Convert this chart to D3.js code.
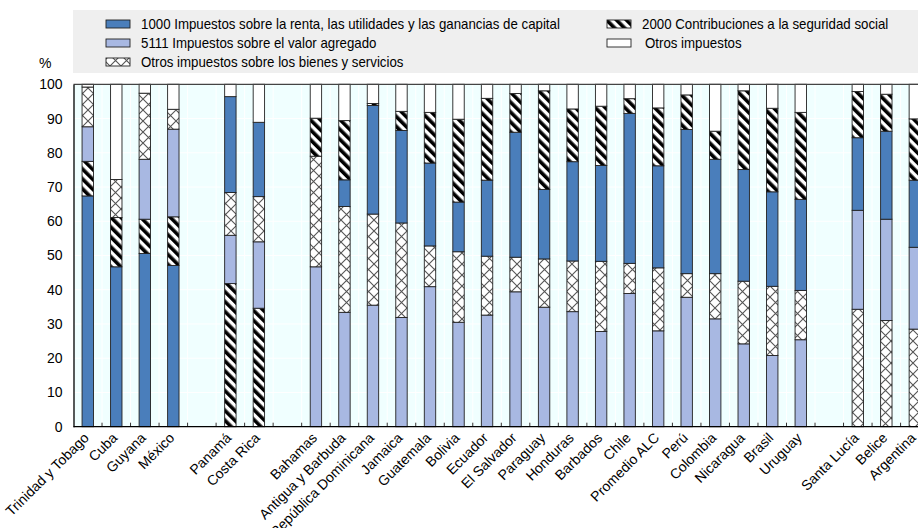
<!DOCTYPE html>
<html><head><meta charset="utf-8">
<script src="https://cdn.jsdelivr.net/npm/d3@7"></script>
<style>
html,body{margin:0;padding:0;background:#fff;}
svg{display:block;}
text{font-family:"Liberation Sans",Arial,sans-serif;fill:#000;}
</style></head>
<body>
<svg id="chart" width="918" height="528"></svg>
<script>
// ---- data ----
const categories = ["Trinidad y Tobago","Cuba","Guyana","México","","Panamá","Costa Rica","","Bahamas","Antigua y Barbuda","República Dominicana","Jamaica","Guatemala","Bolivia","Ecuador","El Salvador","Paraguay","Honduras","Barbados","Chile","Promedio ALC","Perú","Colombia","Nicaragua","Brasil","Uruguay","","Santa Lucía","Belice","Argentina"];
const groups = [0,0,0,0,null,1,1,null,2,2,2,2,2,2,2,2,2,2,2,2,2,2,2,2,2,2,null,3,3,3];
const renta   = [67.4,46.7,50.6,47.1,null,28.0,21.7,null,0,7.8,31.7,27.0,24.2,14.5,22.2,36.5,20.3,29.0,28.0,43.8,29.8,42.1,33.4,32.6,27.6,26.6,null,21.2,25.7,19.6];
const seguridad = [10.1,14.4,10.0,14.2,null,41.8,34.6,null,11.1,17.3,0.6,5.6,14.8,24.2,23.9,11.3,28.8,15.4,17.3,4.3,16.9,10.1,8.2,23.0,24.4,25.4,null,13.5,10.8,17.9];
const iva     = [10.1,0,17.5,25.6,null,14.1,19.4,null,46.7,33.4,35.5,31.9,40.9,30.5,32.6,39.4,34.9,33.6,27.8,38.9,28.0,37.8,31.5,24.2,20.8,25.4,null,28.9,29.6,23.9];
const bienes  = [11.6,11.1,19.3,5.8,null,12.5,13.2,null,32.3,30.9,26.6,27.6,11.9,20.6,17.2,10.1,14.1,14.8,20.5,8.8,18.4,6.9,13.2,18.3,20.2,14.4,null,34.3,31.0,28.5];
const otros   = [0.8,27.8,2.6,7.3,null,3.6,11.1,null,9.9,10.6,5.6,7.9,8.2,10.2,4.1,2.7,1.9,7.2,6.4,4.2,6.9,3.1,13.7,1.9,7.0,8.2,null,2.1,2.9,10.1];
const seriesLabels = {
  renta:"1000 Impuestos sobre la renta, las utilidades y las ganancias de capital",
  iva:"5111 Impuestos sobre el valor agregado",
  bienes:"Otros impuestos sobre los bienes y servicios",
  seguridad:"2000 Contribuciones a la seguridad social",
  otros:"Otros impuestos"
};
// stacking order (bottom to top) per group
const groupOrders = [
  ["renta","seguridad","iva","bienes","otros"],
  ["seguridad","iva","bienes","renta","otros"],
  ["iva","bienes","renta","seguridad","otros"],
  ["bienes","iva","renta","seguridad","otros"]
];
const yTicks = [0,10,20,30,40,50,60,70,80,90,100];

const values = {renta, seguridad, iva, bienes, otros};

// ---- chart ----
const W = 918, H = 528;
const svg = d3.select("#chart");
const defs = svg.append("defs");

const stripe = defs.append("pattern").attr("id","pStripe").attr("patternUnits","userSpaceOnUse")
  .attr("width",7).attr("height",7).attr("patternTransform","rotate(-45)");
stripe.append("rect").attr("width",7).attr("height",7).attr("fill","#fff");
stripe.append("rect").attr("width",3.6).attr("height",7).attr("fill","#000");

const cross = defs.append("pattern").attr("id","pCross").attr("patternUnits","userSpaceOnUse")
  .attr("width",11).attr("height",11);
cross.append("rect").attr("width",11).attr("height",11).attr("fill","#fff");
cross.append("path").attr("d","M0,0L11,11M11,0L0,11").attr("stroke","#555").attr("stroke-width",1.1).attr("fill","none");

const fills = {renta:"#4a7ebb", iva:"#a8b8e2", bienes:"url(#pCross)", seguridad:"url(#pStripe)", otros:"#ffffff"};

const x0 = 73.5, plotRight = 929.1;
const yBottom = 426.7, yTop = 84.3;
const x = d3.scaleBand().domain(d3.range(categories.length)).range([x0, plotRight]).paddingInner(0).paddingOuter(0);
const y = d3.scaleLinear().domain([0,100]).range([yBottom, yTop]);
const barW = x.bandwidth()*0.4;

// legend background
svg.append("rect").attr("x",73).attr("y",10).attr("width",W-73).attr("height",63).attr("fill","#efefef");

// plot background
svg.append("rect").attr("x",x0).attr("y",yTop).attr("width",plotRight-x0).attr("height",yBottom-yTop).attr("fill","#f0ffff");

// white grid
svg.append("g").selectAll("line").data(yTicks.filter(d=>d>0&&d<100)).join("line")
  .attr("x1",x0).attr("x2",plotRight).attr("y1",d=>y(d)).attr("y2",d=>y(d))
  .attr("stroke","#fff").attr("stroke-width",1);
svg.append("g").selectAll("line").data(d3.range(1,categories.length)).join("line")
  .attr("x1",d=>x(d)).attr("x2",d=>x(d)).attr("y1",yTop).attr("y2",yBottom)
  .attr("stroke","#fff").attr("stroke-width",1);

// stacked segments
const segs = [];
categories.forEach((c,i)=>{
  const g = groups[i];
  if(g===null) return;
  let acc = 0;
  groupOrders[g].forEach(k=>{
    const v = values[k][i];
    if(v>0){ segs.push({i, key:k, y0:acc, y1:acc+v}); }
    acc += v;
  });
});
svg.append("g").selectAll("rect").data(segs).join("rect")
  .attr("x",d=>x(d.i)+(x.bandwidth()-barW)/2)
  .attr("width",barW)
  .attr("y",d=>y(d.y1))
  .attr("height",d=>y(d.y0)-y(d.y1))
  .attr("fill",d=>fills[d.key])
  .attr("stroke","#222").attr("stroke-width",0.9);

// x-axis tick marks (inside, at band boundaries)
svg.append("g").selectAll("line").data(d3.range(1,categories.length)).join("line")
  .attr("x1",d=>x(d)).attr("x2",d=>x(d)).attr("y1",yBottom).attr("y2",yBottom-4)
  .attr("stroke","#333").attr("stroke-width",1);

// frame lines
svg.append("line").attr("x1",x0).attr("x2",plotRight).attr("y1",yTop).attr("y2",yTop).attr("stroke","#444").attr("stroke-width",1.3);
svg.append("line").attr("x1",x0).attr("x2",plotRight).attr("y1",yBottom).attr("y2",yBottom).attr("stroke","#000").attr("stroke-width",1.3);

// y axis
const yAxis = d3.axisLeft(y).tickValues(yTicks).tickSize(0).tickPadding(11).tickFormat(d3.format("d"));
const ya = svg.append("g").attr("transform",`translate(${x0},0)`).call(yAxis);
ya.select(".domain").attr("stroke","#000").attr("stroke-width",1.3);
ya.selectAll("text").attr("font-size",14).style("font-family","'Liberation Sans',Arial,sans-serif").attr("fill","#000");

svg.append("text").attr("x",39).attr("y",68).attr("font-size",14).text("%");

// x labels
svg.append("g").selectAll("text").data(categories.map((c,i)=>({c,i})).filter(d=>d.c!=="")).join("text")
  .attr("transform",d=>`translate(${x(d.i)+x.bandwidth()/2+2},${yBottom+12}) rotate(-45)`)
  .attr("text-anchor","end")
  .attr("font-size",14)
  .text(d=>d.c);

// legend (condensed font look: horizontal scale)
const legItems = [
  {k:"renta", sx:106, tx:141, ty:24},
  {k:"iva", sx:106, tx:141, ty:43},
  {k:"bienes", sx:106, tx:141, ty:62},
  {k:"seguridad", sx:607, tx:642, ty:24},
  {k:"otros", sx:607, tx:645, ty:43}
];
const lg = svg.append("g");
const probe = lg.append("text").attr("font-size",15).text(seriesLabels.renta);
const squeeze = 419 / probe.node().getComputedTextLength();
probe.remove();
legItems.forEach(it=>{
  lg.append("rect").attr("x",it.sx).attr("y",it.ty-4).attr("width",24).attr("height",8)
    .attr("fill",fills[it.k]).attr("stroke","#222").attr("stroke-width",0.9);
  lg.append("text").attr("transform",`translate(${it.tx},${it.ty}) scale(${squeeze},1)`).attr("dy","0.36em")
    .attr("font-size",15).text(seriesLabels[it.k]);
});
</script>
</body></html>
